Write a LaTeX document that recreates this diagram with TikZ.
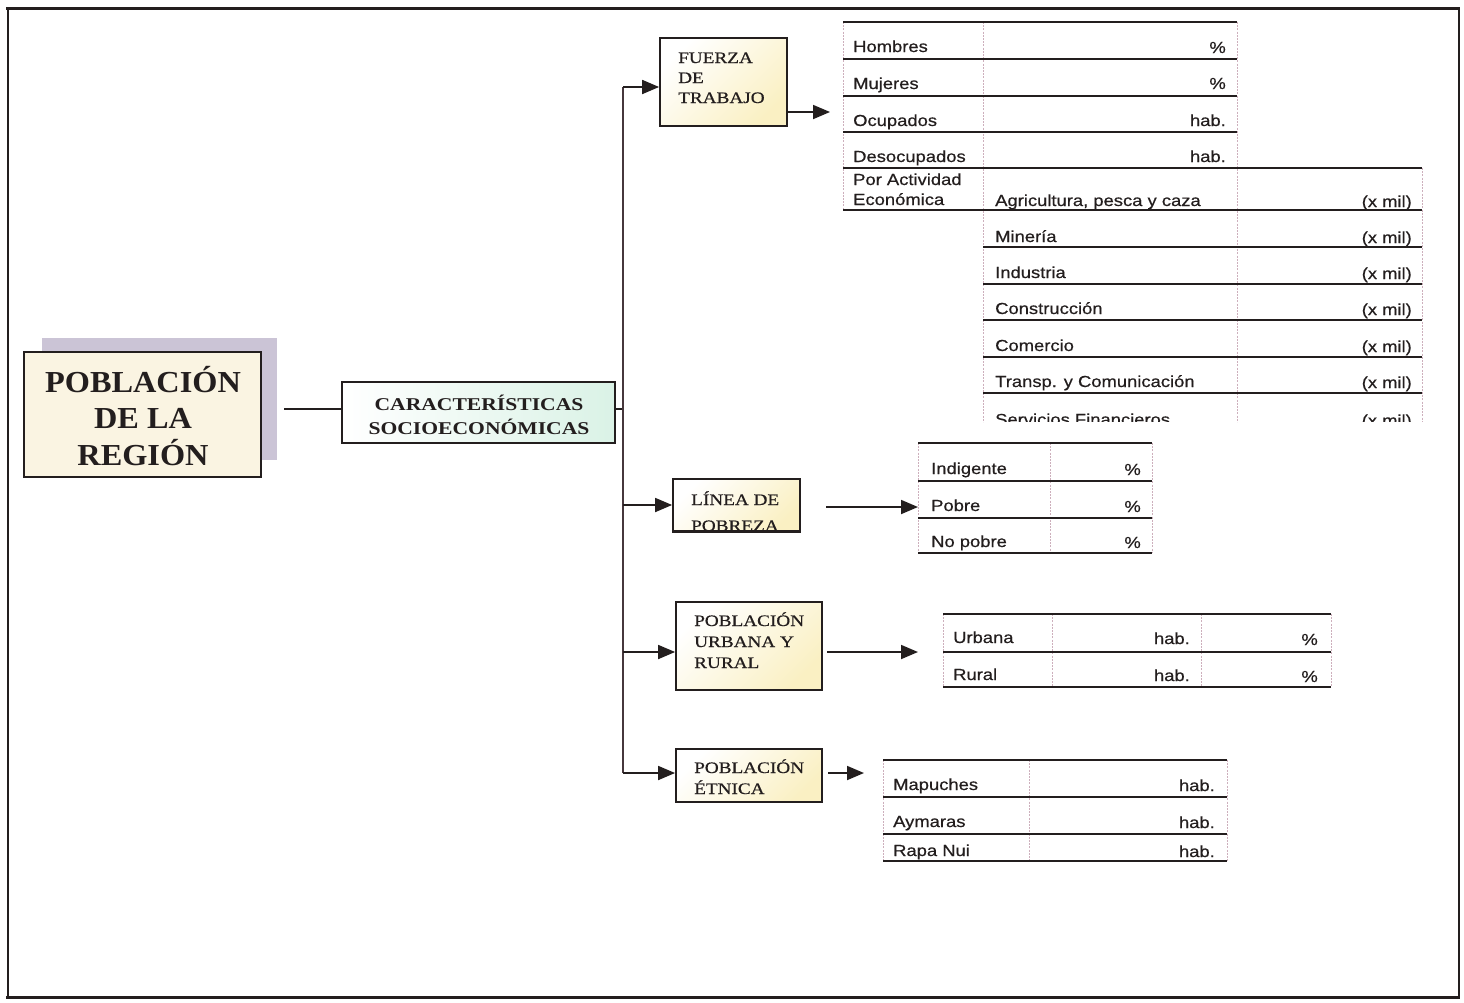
\documentclass[tikz,border=0pt]{standalone}
\usepackage{fontspec}
\setmainfont{Liberation Serif}
\newfontfamily\ttlfont[FakeStretch=1.06]{Liberation Serif}
\newfontfamily\bxfont[FakeStretch=1.2,FakeBold=0.6]{Liberation Serif}
\newfontfamily\cbfont[FakeStretch=1.2]{Liberation Serif}
\newfontfamily\tbfont[FakeStretch=1.15,FakeBold=0.5]{Liberation Sans}
\usetikzlibrary{arrows.meta}
\definecolor{ink}{RGB}{35,30,30}
\definecolor{gridc}{RGB}{205,175,188}
\definecolor{trunkc}{RGB}{70,55,60}
\definecolor{cream}{RGB}{250,244,226}
\definecolor{shadowc}{RGB}{203,196,214}
\definecolor{paley}{RGB}{250,240,195}
\definecolor{mint}{RGB}{218,242,230}
\begin{document}
\begin{tikzpicture}[x=1pt,y=-1pt,
  boxline/.style={draw=ink, line width=1.8pt, inner sep=0pt},
  ybox/.style={boxline, top color=white, bottom color=paley, shading angle=45},
  ttl/.style={font=\ttlfont\bfseries\fontsize{30.5}{36}\selectfont, inner sep=0pt, text=ink},
  bxt/.style={font=\bxfont\fontsize{16}{18}\selectfont, inner sep=0pt, text=ink},
  cart/.style={font=\cbfont\bfseries\fontsize{18}{22}\selectfont, inner sep=0pt, text=ink},
  cell/.style={font=\tbfont\fontsize{16}{18}\selectfont, inner sep=0pt, text=ink},
  conn/.style={line width=1.8pt, draw=ink},
  arr/.style={conn, -{Triangle[length=17pt,width=14pt]}},
  hline/.style={line width=1.6pt, draw=ink},
  gridl/.style={line width=0.9pt, draw=gridc, dash pattern=on 2pt off 1.2pt}
]
\useasboundingbox (0,0) rectangle (1464,1002);
\fill[white] (0,0) rectangle (1464,1002);

% outer frame
\draw[line width=3pt, draw=ink] (6,8) -- (1460,8);
\draw[line width=1.4pt, draw=ink] (8,8) -- (8,997);
\draw[line width=1.4pt, draw=ink] (1459,8) -- (1459,997);
\draw[line width=3pt, draw=ink] (6,997) -- (1460,997);

% main box with shadow
\fill[shadowc] (42,338) rectangle (277,460);
\node[boxline, fill=cream, minimum width=237pt, minimum height=125pt] (main) at (142.5,414.5) {};
\node[ttl, anchor=base] (m1) at (143,392) {POBLACIÓN};
\node[ttl, anchor=base] (m2) at (143,428) {DE LA};
\node[ttl, anchor=base] (m3) at (143,465) {REGIÓN};

% caracteristicas box
\node[boxline, left color=white, right color=mint, minimum width=273pt, minimum height=61pt] (car) at (478.5,412.5) {};
\node[cart, anchor=base] (c1) at (479,410) {CARACTERÍSTICAS};
\node[cart, anchor=base] (c2) at (479,434) {SOCIOECONÓMICAS};

\coordinate (mstart) at (284,409);
\draw[conn] (mstart) -- (car.west |- mstart);

% trunk
\coordinate (tj) at (623,409);
\coordinate (ttop) at (623,87);
\coordinate (tbot) at (623,773);
\draw[conn] (car.east |- tj) -- (tj);
\draw[line width=1.3pt, draw=trunkc] (ttop) -- (tbot);

% category boxes
\node[ybox, minimum width=127pt, minimum height=88pt] (fuerza) at (723.5,82) {};
\node[bxt, anchor=base west] (f1) at (678,63) {FUERZA};
\node[bxt, anchor=base west] (f2) at (678,83) {DE};
\node[bxt, anchor=base west] (f3) at (678,103) {TRABAJO};

\node[ybox, minimum width=127pt, minimum height=52pt] (linea) at (736.5,505) {};
\node[bxt, anchor=base west] (l1) at (691,505) {LÍNEA DE};
\node[bxt, anchor=base west] (l2) at (691,531) {POBREZA};
\fill[white] (linea.south west) ++(-1,1) rectangle ([xshift=1pt,yshift=-6pt]linea.south east);
\draw[boxline] (linea.south west) -- (linea.south east);

\node[ybox, minimum width=146pt, minimum height=88pt] (urb) at (749,646) {};
\node[bxt, anchor=base west] (u1) at (694,626) {POBLACIÓN};
\node[bxt, anchor=base west] (u2) at (694,647) {URBANA Y};
\node[bxt, anchor=base west] (u3) at (694,668) {RURAL};

\node[ybox, minimum width=146pt, minimum height=53pt] (etn) at (749,775.5) {};
\node[bxt, anchor=base west] (e1) at (694,773) {POBLACIÓN};
\node[bxt, anchor=base west] (e2) at (694,794) {ÉTNICA};

% arrows from trunk
\draw[arr] (ttop) -- (fuerza.west |- ttop);
\coordinate (tl) at (623,505);
\draw[arr] (tl) -- (linea.west |- tl);
\coordinate (tu) at (623,652);
\draw[arr] (tu) -- (urb.west |- tu);
\draw[arr] (tbot) -- (etn.west |- tbot);

% arrows to tables
\coordinate (fa) at (830,112);
\draw[arr] (fuerza.east |- fa) -- (fa);
\coordinate (la0) at (826,507);
\coordinate (la) at (918,507);
\draw[arr] (la0) -- (la);
\coordinate (ua0) at (827,652);
\coordinate (ua) at (918,652);
\draw[arr] (ua0) -- (ua);
\coordinate (ea0) at (828,773);
\coordinate (ea) at (864,773);
\draw[arr] (ea0) -- (ea);

% ---------- Table 1 ----------
\draw[gridl] (843,22) -- (843,210);
\draw[gridl] (983,22) -- (983,422);
\draw[gridl] (1237,22) -- (1237,422);
\draw[gridl] (1422,168) -- (1422,422);
\foreach \yy in {22,59,96,132} \draw[hline] (843,\yy) -- (1237,\yy);
\foreach \yy in {168,210} \draw[hline] (843,\yy) -- (1422,\yy);
\foreach \yy in {247,284,320,357,393} \draw[hline] (983,\yy) -- (1422,\yy);
\foreach \t/\b [count=\i] in {Hombres/52,Mujeres/89,Ocupados/126,Desocupados/162,Por Actividad/185,Económica/205}
  \node[cell, anchor=base west] (ta\i) at (853,\b) {\t};
\foreach \t/\b [count=\i] in {\%/53,\%/89,hab./126,hab./162}
  \node[cell, anchor=base east] (tv\i) at (1226,\b) {\t};
\foreach \t/\b [count=\i] in {{Agricultura, pesca y caza}/206,Minería/242,Industria/278,Construcción/314,Comercio/351,{Transp. y Comunicación}/387}
  {\node[cell, anchor=base west] (tb\i) at (995,\b) {\t};
   \node[cell, anchor=base east] (tm\i) at (1412,\b+1) {(x mil)};}
\begin{scope}
  \clip (985,395) rectangle (1420,421);
  \node[cell, anchor=base west] (tb7) at (995,425) {Servicios Financieros};
  \node[cell, anchor=base east] (tm7) at (1412,426) {(x mil)};
\end{scope}

% ---------- Table 2 ----------
\draw[gridl] (918,443) -- (918,553);
\draw[gridl] (1050,443) -- (1050,553);
\draw[gridl] (1152,443) -- (1152,553);
\foreach \yy in {443,481,518,553} \draw[hline] (918,\yy) -- (1152,\yy);
\foreach \t/\b [count=\i] in {Indigente/474,Pobre/511,No pobre/547}
  {\node[cell, anchor=base west] (pa\i) at (931,\b) {\t};
   \node[cell, anchor=base east] (pv\i) at (1141,\b+1) {\%};}

% ---------- Table 3 ----------
\draw[gridl] (943,614) -- (943,687);
\draw[gridl] (1052,614) -- (1052,687);
\draw[gridl] (1201,614) -- (1201,687);
\draw[gridl] (1331,614) -- (1331,687);
\foreach \yy in {614,652,687} \draw[hline] (943,\yy) -- (1331,\yy);
\foreach \t/\b [count=\i] in {Urbana/643,Rural/680}
  {\node[cell, anchor=base west] (ra\i) at (953,\b) {\t};
   \node[cell, anchor=base east] (rh\i) at (1190,\b+1) {hab.};
   \node[cell, anchor=base east] (rp\i) at (1318,\b+2) {\%};}

% ---------- Table 4 ----------
\draw[gridl] (883,760) -- (883,861);
\draw[gridl] (1029,760) -- (1029,861);
\draw[gridl] (1227,760) -- (1227,861);
\foreach \yy in {760,797,834,861} \draw[hline] (883,\yy) -- (1227,\yy);
\foreach \t/\b [count=\i] in {Mapuches/790,Aymaras/827,Rapa Nui/856}
  {\node[cell, anchor=base west] (ka\i) at (893,\b) {\t};
   \node[cell, anchor=base east] (kh\i) at (1215,\b+1) {hab.};}
\end{tikzpicture}
\end{document}
